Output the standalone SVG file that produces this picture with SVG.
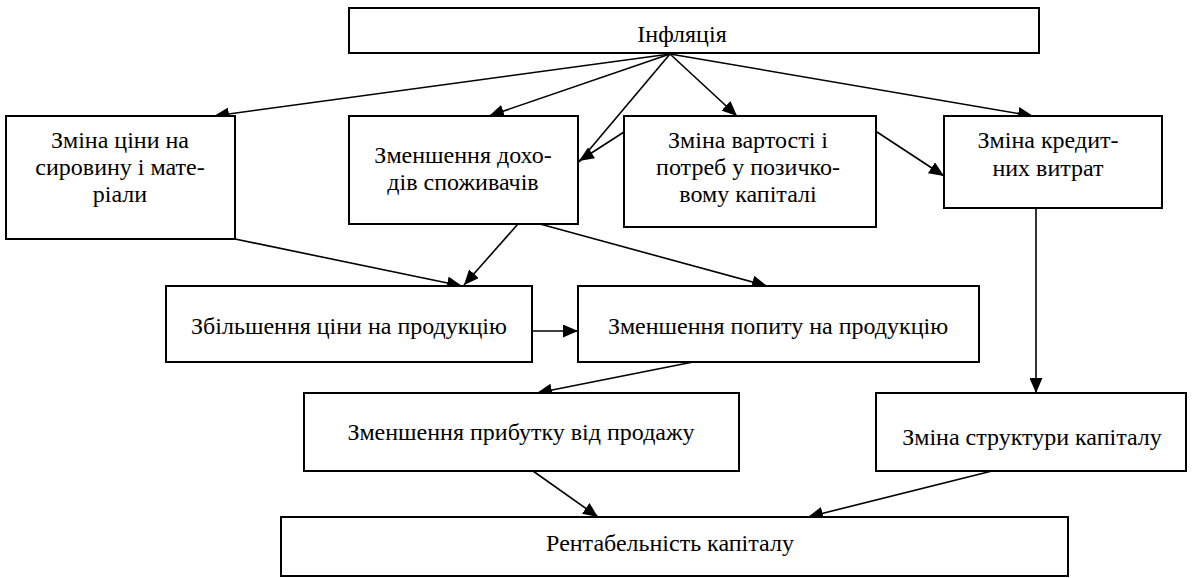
<svg xmlns="http://www.w3.org/2000/svg" width="1192" height="578" viewBox="0 0 1192 578">
<style>
.box{fill:#fff;stroke:#000;stroke-width:2}
.t{font-family:'Liberation Serif','Times New Roman',serif;font-size:24px;fill:#000;text-anchor:middle}
.c{stroke:#000;stroke-width:1.6;fill:none}
</style>
<defs>
<marker id="ah" markerUnits="userSpaceOnUse" markerWidth="16" markerHeight="13" refX="15" refY="6.5" orient="auto">
<path d="M0,0 L15,6.5 L0,13 z" fill="#000"/>
</marker>
</defs>
<rect width="1192" height="578" fill="#fff"/>
<g id="connectors">
<line class="c" x1="670" y1="54" x2="214" y2="116" marker-end="url(#ah)"/>
<line class="c" x1="670" y1="54" x2="489" y2="116" marker-end="url(#ah)"/>
<line class="c" x1="670" y1="54" x2="579" y2="162"/>
<line class="c" x1="670" y1="54" x2="737" y2="116" marker-end="url(#ah)"/>
<line class="c" x1="670" y1="54" x2="1033" y2="116" marker-end="url(#ah)"/>
<line class="c" x1="624" y1="132" x2="579" y2="161" marker-end="url(#ah)"/>
<line class="c" x1="877" y1="132" x2="944" y2="176" marker-end="url(#ah)"/>
<line class="c" x1="235" y1="239" x2="462" y2="286" marker-end="url(#ah)"/>
<line class="c" x1="518" y1="224" x2="464" y2="285" marker-end="url(#ah)"/>
<line class="c" x1="540" y1="224" x2="767" y2="286" marker-end="url(#ah)"/>
<line class="c" x1="532" y1="331" x2="578" y2="331" marker-end="url(#ah)"/>
<line class="c" x1="693" y1="362" x2="537" y2="393" marker-end="url(#ah)"/>
<line class="c" x1="1036" y1="208" x2="1036" y2="393" marker-end="url(#ah)"/>
<line class="c" x1="533" y1="471" x2="598" y2="517" marker-end="url(#ah)"/>
<line class="c" x1="992" y1="471" x2="808" y2="517" marker-end="url(#ah)"/>
</g>
<g id="inflation">
<rect class="box" x="349" y="8" width="690" height="45"/>
<text class="t" x="682" y="42">Інфляція</text>
</g>
<g id="raw-materials">
<rect class="box" x="6" y="116" width="229" height="123"/>
<text class="t" x="120" y="148">Зміна ціни на</text>
<text class="t" x="120" y="175">сировину і мате-</text>
<text class="t" x="120" y="202">ріали</text>
</g>
<g id="consumer-income">
<rect class="box" x="349" y="116" width="229" height="108"/>
<text class="t" x="463" y="163">Зменшення дохо-</text>
<text class="t" x="463" y="190">дів споживачів</text>
</g>
<g id="loan-capital">
<rect class="box" x="624" y="116" width="252" height="111"/>
<text class="t" x="748" y="148">Зміна вартості і</text>
<text class="t" x="748" y="175">потреб у позичко-</text>
<text class="t" x="748" y="202">вому капіталі</text>
</g>
<g id="credit-costs">
<rect class="box" x="944" y="116" width="218" height="92"/>
<text class="t" x="1048" y="148">Зміна кредит-</text>
<text class="t" x="1048" y="176">них витрат</text>
</g>
<g id="price-increase">
<rect class="box" x="166" y="286" width="366" height="76"/>
<text class="t" x="349" y="334">Збільшення ціни на продукцію</text>
</g>
<g id="demand-decrease">
<rect class="box" x="578" y="286" width="401" height="76"/>
<text class="t" x="778" y="334">Зменшення попиту на продукцію</text>
</g>
<g id="profit-decrease">
<rect class="box" x="304" y="393" width="435" height="78"/>
<text class="t" x="521" y="440">Зменшення прибутку від продажу</text>
</g>
<g id="capital-structure">
<rect class="box" x="876" y="393" width="310" height="78"/>
<text class="t" x="1032" y="445">Зміна структури капіталу</text>
</g>
<g id="profitability">
<rect class="box" x="281" y="517" width="787" height="59"/>
<text class="t" x="670" y="551">Рентабельність капіталу</text>
</g>
</svg>
